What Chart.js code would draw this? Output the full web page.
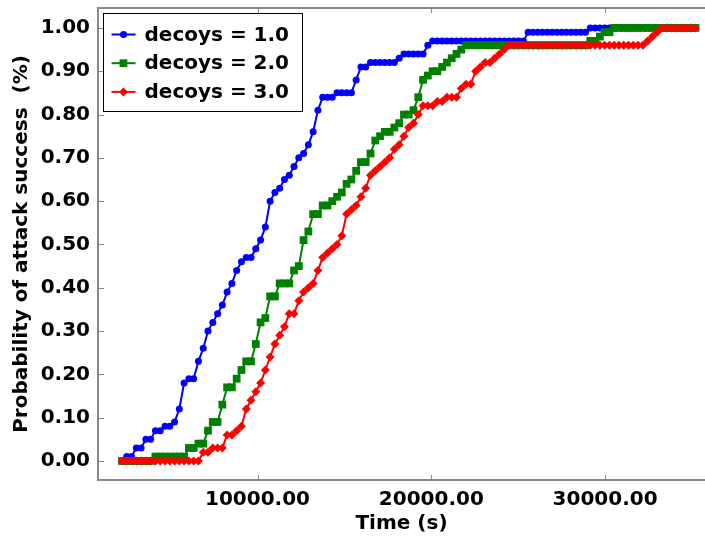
<!DOCTYPE html>
<html>
<head>
<meta charset="utf-8">
<script src="https://cdn.jsdelivr.net/npm/chart.js@4.4.0/dist/chart.umd.min.js"></script>
<style>
  html, body { margin: 0; padding: 0; background: #fff; }
  #chart { display: block; }
</style>
</head>
<body>
<canvas id="chart" width="705" height="536"></canvas>
<script>
// sample times (s)
const times = [
    2200, 2475, 2750, 3025, 3300, 3575, 3850, 4125, 4400, 4675,
    4950, 5225, 5500, 5775, 6050, 6325, 6600, 6875, 7150, 7425,
    7700, 7975, 8250, 8525, 8800, 9075, 9350, 9625, 9900, 10175,
    10450, 10725, 11000, 11275, 11550, 11825, 12100, 12375, 12650, 12925,
    13200, 13475, 13750, 14025, 14300, 14575, 14850, 15125, 15400, 15675,
    15950, 16225, 16500, 16775, 17050, 17325, 17600, 17875, 18150, 18425,
    18700, 18975, 19250, 19525, 19800, 20075, 20350, 20625, 20900, 21175,
    21450, 21725, 22000, 22275, 22550, 22825, 23100, 23375, 23650, 23925,
    24200, 24475, 24750, 25025, 25300, 25575, 25850, 26125, 26400, 26675,
    26950, 27225, 27500, 27775, 28050, 28325, 28600, 28875, 29150, 29425,
    29700, 29975, 30250, 30525, 30800, 31075, 31350, 31625, 31900, 32175,
    32450, 32725, 33000, 33275, 33550, 33825, 34100, 34375, 34650, 34925,
    35200
];

// probability of attack success per decoy setting
const decoys1 = [
    0.00, 0.01, 0.01, 0.03, 0.03, 0.05, 0.05, 0.07, 0.07, 0.08,
    0.08, 0.09, 0.12, 0.18, 0.19, 0.19, 0.23, 0.26, 0.30, 0.32,
    0.34, 0.36, 0.39, 0.41, 0.44, 0.46, 0.47, 0.47, 0.49, 0.51,
    0.54, 0.60, 0.62, 0.63, 0.65, 0.66, 0.68, 0.70, 0.71, 0.73,
    0.76, 0.81, 0.84, 0.84, 0.84, 0.85, 0.85, 0.85, 0.85, 0.88,
    0.91, 0.91, 0.92, 0.92, 0.92, 0.92, 0.92, 0.92, 0.93, 0.94,
    0.94, 0.94, 0.94, 0.94, 0.96, 0.97, 0.97, 0.97, 0.97, 0.97,
    0.97, 0.97, 0.97, 0.97, 0.97, 0.97, 0.97, 0.97, 0.97, 0.97,
    0.97, 0.97, 0.97, 0.97, 0.97, 0.99, 0.99, 0.99, 0.99, 0.99,
    0.99, 0.99, 0.99, 0.99, 0.99, 0.99, 0.99, 0.99, 1.00, 1.00,
    1.00, 1.00, 1.00, 1.00
];
const decoys2 = [
    0.00, 0.00, 0.00, 0.00, 0.00, 0.00, 0.00, 0.01, 0.01, 0.01,
    0.01, 0.01, 0.01, 0.01, 0.03, 0.03, 0.04, 0.04, 0.07, 0.09,
    0.09, 0.13, 0.17, 0.17, 0.19, 0.21, 0.23, 0.23, 0.27, 0.32,
    0.33, 0.38, 0.38, 0.41, 0.41, 0.41, 0.44, 0.45, 0.51, 0.53,
    0.57, 0.57, 0.59, 0.59, 0.60, 0.61, 0.62, 0.64, 0.65, 0.67,
    0.69, 0.69, 0.71, 0.74, 0.75, 0.76, 0.76, 0.77, 0.78, 0.80,
    0.80, 0.81, 0.84, 0.88, 0.89, 0.90, 0.90, 0.91, 0.92, 0.93,
    0.94, 0.95, 0.96, 0.96, 0.96, 0.96, 0.96, 0.96, 0.96, 0.96,
    0.96, 0.96, 0.96, 0.96, 0.96, 0.96, 0.96, 0.96, 0.96, 0.96,
    0.96, 0.96, 0.96, 0.96, 0.96, 0.96, 0.96, 0.96, 0.97, 0.97,
    0.98, 0.99, 0.99, 1.00, 1.00, 1.00, 1.00, 1.00, 1.00, 1.00,
    1.00, 1.00, 1.00, 1.00, 1.00, 1.00, 1.00, 1.00, 1.00, 1.00,
    1.00
];
const decoys3 = [
    0.00, 0.00, 0.00, 0.00, 0.00, 0.00, 0.00, 0.00, 0.00, 0.00,
    0.00, 0.00, 0.00, 0.00, 0.00, 0.00, 0.00, 0.02, 0.02, 0.03,
    0.03, 0.03, 0.06, 0.06, 0.07, 0.08, 0.12, 0.14, 0.16, 0.18,
    0.21, 0.24, 0.27, 0.29, 0.31, 0.34, 0.34, 0.37, 0.39, 0.40,
    0.41, 0.44, 0.47, 0.48, 0.49, 0.50, 0.52, 0.57, 0.58, 0.59,
    0.61, 0.63, 0.66, 0.67, 0.68, 0.69, 0.70, 0.72, 0.73, 0.75,
    0.77, 0.78, 0.80, 0.82, 0.82, 0.82, 0.83, 0.83, 0.84, 0.84,
    0.84, 0.86, 0.87, 0.87, 0.90, 0.91, 0.92, 0.92, 0.93, 0.94,
    0.95, 0.96, 0.96, 0.96, 0.96, 0.96, 0.96, 0.96, 0.96, 0.96,
    0.96, 0.96, 0.96, 0.96, 0.96, 0.96, 0.96, 0.96, 0.96, 0.96,
    0.96, 0.96, 0.96, 0.96, 0.96, 0.96, 0.96, 0.96, 0.96, 0.96,
    0.97, 0.98, 0.99, 1.00, 1.00, 1.00, 1.00, 1.00, 1.00, 1.00,
    1.00
];

const seriesLabels = ['decoys = 1.0', 'decoys = 2.0', 'decoys = 3.0'];
const xTicks = [10000, 20000, 30000];
const yTicks = [0, 0.1, 0.2, 0.3, 0.4, 0.5, 0.6, 0.7, 0.8, 0.9, 1.0];

const FONT = 'DejaVu Sans';
const AXIS_GREY = '#888888';

function toPoints(values) {
    return values.map((v, i) => ({ x: times[i], y: v }));
}

// inward tick marks + top frame line
const frameTicks = {
    id: 'frameTicks',
    afterDraw(chart) {
        const ctx = chart.ctx;
        const area = chart.chartArea;
        const xs = chart.scales.x;
        const ys = chart.scales.y;
        ctx.save();
        ctx.strokeStyle = AXIS_GREY;
        ctx.lineWidth = 2;
        ctx.beginPath();
        ctx.moveTo(area.left, area.top);
        ctx.lineTo(area.right, area.top);
        ctx.stroke();
        ctx.lineWidth = 1;
        ctx.beginPath();
        xTicks.forEach(t => {
            const px = Math.round(xs.getPixelForValue(t)) + 0.5;
            ctx.moveTo(px, area.bottom);
            ctx.lineTo(px, area.bottom - 5);
            ctx.moveTo(px, area.top);
            ctx.lineTo(px, area.top + 5);
        });
        yTicks.forEach(t => {
            const py = Math.round(ys.getPixelForValue(t)) + 0.5;
            ctx.moveTo(area.left, py);
            ctx.lineTo(area.left + 6, py);
        });
        ctx.stroke();
        ctx.restore();
    }
};

function drawMarker(ctx, style, x, y, r) {
    ctx.beginPath();
    if (style === 'circle') {
        ctx.arc(x, y, r, 0, Math.PI * 2);
    } else if (style === 'rect') {
        const s = r * Math.SQRT1_2;
        ctx.rect(x - s, y - s, 2 * s, 2 * s);
    } else {
        ctx.moveTo(x, y - r);
        ctx.lineTo(x + r, y);
        ctx.lineTo(x, y + r);
        ctx.lineTo(x - r, y);
        ctx.closePath();
    }
    ctx.fill();
}

// boxed legend in the upper left of the plot
const boxLegend = {
    id: 'boxLegend',
    afterDraw(chart) {
        const ctx = chart.ctx;
        const area = chart.chartArea;
        const left = area.left + 5.5;
        const top = area.top + 5.5;
        ctx.save();
        ctx.fillStyle = '#ffffff';
        ctx.fillRect(left, top, 199, 98);
        ctx.strokeStyle = '#000000';
        ctx.lineWidth = 1;
        ctx.strokeRect(left, top, 199, 98);
        ctx.font = 'bold 20px "' + FONT + '"';
        ctx.textBaseline = 'middle';
        chart.data.datasets.forEach((ds, i) => {
            const cy = top + 21 + i * 28.7;
            ctx.strokeStyle = ds.borderColor;
            ctx.lineWidth = 2;
            ctx.beginPath();
            ctx.moveTo(left + 8, cy);
            ctx.lineTo(left + 32, cy);
            ctx.stroke();
            ctx.fillStyle = ds.borderColor;
            drawMarker(ctx, ds.pointStyle, left + 20, cy, ds.pointRadius);
            ctx.fillStyle = '#000000';
            ctx.fillText(ds.label, left + 41, cy + 1);
        });
        ctx.restore();
    }
};

const ctx = document.getElementById('chart').getContext('2d');
const chart = new Chart(ctx, {
    type: 'line',
    data: {
        datasets: [{
            label: seriesLabels[0],
            data: toPoints(decoys1),
            borderColor: '#0000ff',
            backgroundColor: '#0000ff',
            pointStyle: 'circle',
            pointRadius: 3.5,
            borderWidth: 2,
            pointBorderWidth: 0,
            order: 3
        }, {
            label: seriesLabels[1],
            data: toPoints(decoys2),
            borderColor: '#008000',
            backgroundColor: '#008000',
            pointStyle: 'rect',
            pointRadius: 5.5,
            borderWidth: 2,
            pointBorderWidth: 0,
            order: 2
        }, {
            label: seriesLabels[2],
            data: toPoints(decoys3),
            borderColor: '#ff0000',
            backgroundColor: '#ff0000',
            pointStyle: 'rectRot',
            pointRadius: 4.5,
            borderWidth: 2,
            pointBorderWidth: 0,
            order: 1
        }]
    },
    options: {
        responsive: false,
        animation: false,
        layout: {
            autoPadding: false,
            padding: { top: 8, right: 0, left: 0, bottom: 0 }
        },
        plugins: {
            legend: { display: false },
            tooltip: { enabled: false }
        },
        elements: { line: { tension: 0 } },
        scales: {
            x: {
                type: 'linear',
                min: 820,
                max: 35750,
                afterBuildTicks: scale => { scale.ticks = xTicks.map(v => ({ value: v })); },
                afterFit: scale => {
                    scale.height = 56;
                    scale.paddingLeft = 0;
                    scale.paddingRight = 0;
                },
                grid: { display: true, drawOnChartArea: false, drawTicks: false },
                border: { display: true, color: AXIS_GREY, width: 2 },
                ticks: {
                    color: '#000000',
                    padding: 8,
                    maxRotation: 0,
                    font: { family: FONT, size: 20, weight: 'bold' },
                    callback: v => v.toFixed(2)
                },
                title: {
                    display: true,
                    text: 'Time (s)',
                    color: '#000000',
                    padding: { top: 0, bottom: 0 },
                    font: { family: FONT, size: 20, weight: 'bold' }
                }
            },
            y: {
                min: -0.044,
                max: 1.046,
                afterBuildTicks: scale => { scale.ticks = yTicks.map(v => ({ value: v })); },
                afterFit: scale => {
                    scale.width = 98;
                    scale.paddingTop = 0;
                    scale.paddingBottom = 0;
                },
                grid: { display: true, drawOnChartArea: false, drawTicks: false },
                border: { display: true, color: AXIS_GREY, width: 2 },
                ticks: {
                    color: '#000000',
                    padding: 8,
                    font: { family: FONT, size: 20, weight: 'bold' },
                    callback: v => v.toFixed(2)
                },
                title: {
                    display: true,
                    text: 'Probability of attack success  (%)',
                    color: '#000000',
                    padding: { top: 10, bottom: 0 },
                    font: { family: FONT, size: 20, weight: 'bold' }
                }
            }
        }
    },
    plugins: [frameTicks, boxLegend]
});
</script>
</body>
</html>
